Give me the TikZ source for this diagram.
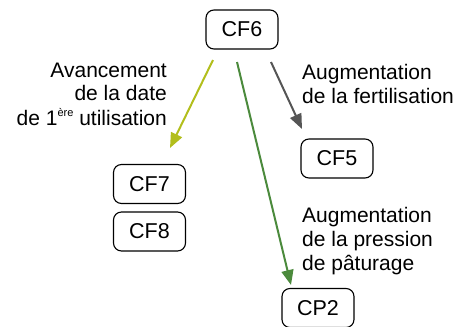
\documentclass[tikz,border=0pt]{standalone}
\usepackage{fontspec}
\setmainfont{Liberation Sans}
\usetikzlibrary{arrows.meta}
\definecolor{olivearr}{HTML}{B2BE1C}
\definecolor{grayarr}{HTML}{555555}
\definecolor{greenarr}{HTML}{4B8A3C}
\tikzset{
  box/.style={draw, line width=1.1pt, rounded corners=8pt, minimum width=72pt, minimum height=39pt, inner sep=0pt, font=\fontsize{21.5}{24}\selectfont},
  lbl/.style={inner sep=0pt, font=\fontsize{21}{24}\selectfont},
  arr/.style={line width=2pt, -{Triangle[length=15pt,width=12pt]}}
}
\begin{document}
\begin{tikzpicture}[x=1pt,y=-1pt]
\useasboundingbox (0,0) rectangle (464,327);
\node[box] (cf6) at (242,29.5) {CF6};
\node[box] (cf5) at (337,158.5) {CF5};
\node[box] (cf7) at (149.5,184) {CF7};
\node[box] (cf8) at (149.5,231.5) {CF8};
\node[box] (cp2) at (318,308) {CP2};
\coordinate (s1) at (213,60);
\coordinate (e1) at (170,148);
\coordinate (s2) at (271,62);
\coordinate (e2) at (302,129);
\coordinate (s3) at (237,62);
\coordinate (e3) at (291,285);
\draw[arr, olivearr] (s1) -- (e1);
\draw[arr, grayarr] (s2) -- (e2);
\draw[arr, greenarr] (s3) -- (e3);
\node[lbl, anchor=base east] (a1) at (167,77) {Avancement};
\node[lbl, anchor=base east] (a2) at (167,100) {de la date};
\node[lbl, anchor=base east] (a3) at (167,125) {de 1\raisebox{0.75ex}{\fontsize{11}{11}\selectfont ère} utilisation};
\node[lbl, anchor=base west] (b1) at (302,79) {Augmentation};
\node[lbl, anchor=base west] (b2) at (302,103) {de la fertilisation};
\node[lbl, anchor=base west] (c1) at (302,222) {Augmentation};
\node[lbl, anchor=base west] (c2) at (302,246) {de la pression};
\node[lbl, anchor=base west] (c3) at (302,270) {de pâturage};
\end{tikzpicture}
\end{document}
